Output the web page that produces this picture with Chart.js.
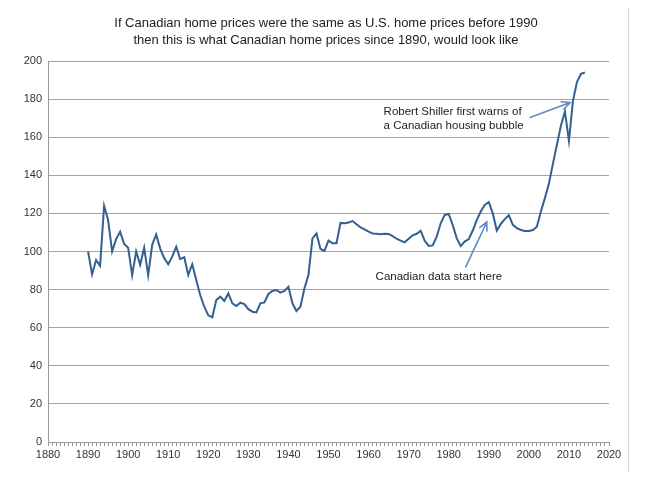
<!DOCTYPE html>
<html><head><meta charset="utf-8">
<script src="https://cdn.jsdelivr.net/npm/chart.js@4/dist/chart.umd.min.js"></script>
<style>html,body{margin:0;padding:0;background:#fff;}</style>
</head><body>
<canvas id="c" width="652" height="484"></canvas>
<script>
const titleLines = [
  "If Canadian home prices were the same as U.S. home prices before 1990",
  "then this is what Canadian home prices since 1890, would look like"
];
const years = [
  1890,1891,1892,1893,1894,1895,1896,1897,1898,1899,
  1900,1901,1902,1903,1904,1905,1906,1907,1908,1909,
  1910,1911,1912,1913,1914,1915,1916,1917,1918,1919,
  1920,1921,1922,1923,1924,1925,1926,1927,1928,1929,
  1930,1931,1932,1933,1934,1935,1936,1937,1938,1939,
  1940,1941,1942,1943,1944,1945,1946,1947,1948,1949,
  1950,1951,1952,1953,1954,1955,1956,1957,1958,1959,
  1960,1961,1962,1963,1964,1965,1966,1967,1968,1969,
  1970,1971,1972,1973,1974,1975,1976,1977,1978,1979,
  1980,1981,1982,1983,1984,1985,1986,1987,1988,1989,
  1990,1991,1992,1993,1994,1995,1996,1997,1998,1999,
  2000,2001,2002,2003,2004,2005,2006,2007,2008,2009,
  2010,2011,2012,2013,2014
];
const prices = [
  100,88,95.5,92.5,124,116.5,100,106.5,110.4,104,
  102,87.5,100,93,102,87.5,103.5,109,101.5,96.5,
  93.3,97.3,102.5,96,97,87.7,93.3,85,77,71,
  66.5,65.5,74.5,76.3,74,78,72.8,71.4,73.1,72.4,
  69.7,68.4,68,72.8,73.3,77.7,79.3,79.8,78.4,79.3,
  81.5,72.8,68.8,71,80.7,87.7,106.9,109.5,101.3,100.3,
  105.7,104.3,104.3,115,114.8,115.2,116,114.3,112.7,111.6,
  110.4,109.5,109.3,109,109.3,109.2,108.1,106.7,105.7,104.8,
  106.7,108.5,109.3,110.9,105.7,102.9,103.2,107.8,114.8,119.2,
  119.7,113.9,106.9,102.9,105.2,106.5,111,116.5,121,124.5,
  126,120,111,114.5,117,119,114,112.3,111.3,110.8,
  110.8,111.3,113,121,128,135.5,146,156,166,173.5,
  158,179,189,193.3,194
];
const xTickLabels = [1880,1890,1900,1910,1920,1930,1940,1950,1960,1970,1980,1990,2000,2010,2020];
const yTickLabels = [0,20,40,60,80,100,120,140,160,180,200];

const shillerNote = ["Robert Shiller first warns of", "a Canadian housing bubble"];
const shillerText = {x: 1963.75, y: 173.4};
const shillerArrow = {from: {x: 2000.3, y: 170.4}, to: {x: 2010.3, y: 178.2}};
const canadaNote = ["Canadian data start here"];
const canadaText = {x: 1961.75, y: 86.6};
const canadaArrow = {from: {x: 1984.25, y: 91.9}, to: {x: 1989.5, y: 115.5}};

const FONT = "'Liberation Sans', Arial, Helvetica, sans-serif";
Chart.defaults.font.family = FONT;

function drawArrow(ctx, x1, y1, x2, y2) {
  const ang = Math.atan2(y2 - y1, x2 - x1);
  const len = 9, spread = 0.45;
  ctx.beginPath();
  ctx.moveTo(x1, y1);
  ctx.lineTo(x2, y2);
  ctx.moveTo(x2 - len * Math.cos(ang - spread), y2 - len * Math.sin(ang - spread));
  ctx.lineTo(x2, y2);
  ctx.lineTo(x2 - len * Math.cos(ang + spread), y2 - len * Math.sin(ang + spread));
  ctx.stroke();
}

const decor = {
  id: 'decor',
  beforeDraw(chart) {
    const ctx = chart.ctx;
    ctx.save();
    ctx.fillStyle = '#fff';
    ctx.fillRect(0, 0, chart.width, chart.height);
    ctx.strokeStyle = '#d6d6d6';
    ctx.lineWidth = 1;
    ctx.beginPath();
    ctx.moveTo(628.5, 8);
    ctx.lineTo(628.5, 472);
    ctx.stroke();
    ctx.fillStyle = '#222';
    ctx.font = '13px ' + FONT;
    ctx.textAlign = 'center';
    ctx.textBaseline = 'middle';
    ctx.fillText(titleLines[0], 326, 23);
    ctx.fillText(titleLines[1], 326, 40);
    ctx.restore();
  },
  afterDatasetsDraw(chart) {
    const {ctx, scales: {x, y}} = chart;
    ctx.save();
    ctx.fillStyle = '#222';
    ctx.font = '11.5px ' + FONT;
    ctx.textAlign = 'left';
    ctx.textBaseline = 'middle';
    shillerNote.forEach((t, i) => ctx.fillText(t, x.getPixelForValue(shillerText.x), y.getPixelForValue(shillerText.y) + i * 14));
    canadaNote.forEach((t, i) => ctx.fillText(t, x.getPixelForValue(canadaText.x), y.getPixelForValue(canadaText.y) + i * 14));
    ctx.strokeStyle = '#5a8cc4';
    ctx.lineWidth = 1.6;
    ctx.lineCap = 'round';
    [shillerArrow, canadaArrow].forEach(a => drawArrow(ctx,
      x.getPixelForValue(a.from.x), y.getPixelForValue(a.from.y),
      x.getPixelForValue(a.to.x), y.getPixelForValue(a.to.y)));
    ctx.restore();
  }
};

new Chart(document.getElementById('c'), {
  type: 'line',
  data: {
    datasets: [{
      data: years.map((yr, i) => ({x: yr, y: prices[i]})),
      borderColor: '#33608f',
      borderWidth: 2,
      pointRadius: 0,
      tension: 0,
      fill: false
    }]
  },
  options: {
    responsive: false,
    animation: false,
    layout: {padding: {top: 61, left: 0, right: 43, bottom: 0}},
    plugins: {legend: {display: false}, title: {display: false}, tooltip: {enabled: false}},
    scales: {
      x: {
        type: 'linear',
        min: 1880, max: 2020,
        grid: {drawOnChartArea: false, drawTicks: true, tickLength: 4, color: '#9a9a9a'},
        border: {display: true, color: '#9a9a9a'},
        ticks: {
          stepSize: 1, autoSkip: false, maxRotation: 0, minRotation: 0,
          padding: 2, color: '#333', font: {size: 11},
          callback: v => xTickLabels.includes(v) ? String(v) : ''
        },
        afterFit: s => { s.height = 42; }
      },
      y: {
        min: 0, max: 200,
        grid: {color: '#a3a3a3', drawTicks: false},
        border: {display: true, color: '#9a9a9a'},
        ticks: {
          stepSize: 20, padding: 6, color: '#333', font: {size: 11},
          callback: v => yTickLabels.includes(v) ? String(v) : ''
        },
        afterFit: s => { s.width = 48; }
      }
    }
  },
  plugins: [decor]
});
</script>
</body></html>
